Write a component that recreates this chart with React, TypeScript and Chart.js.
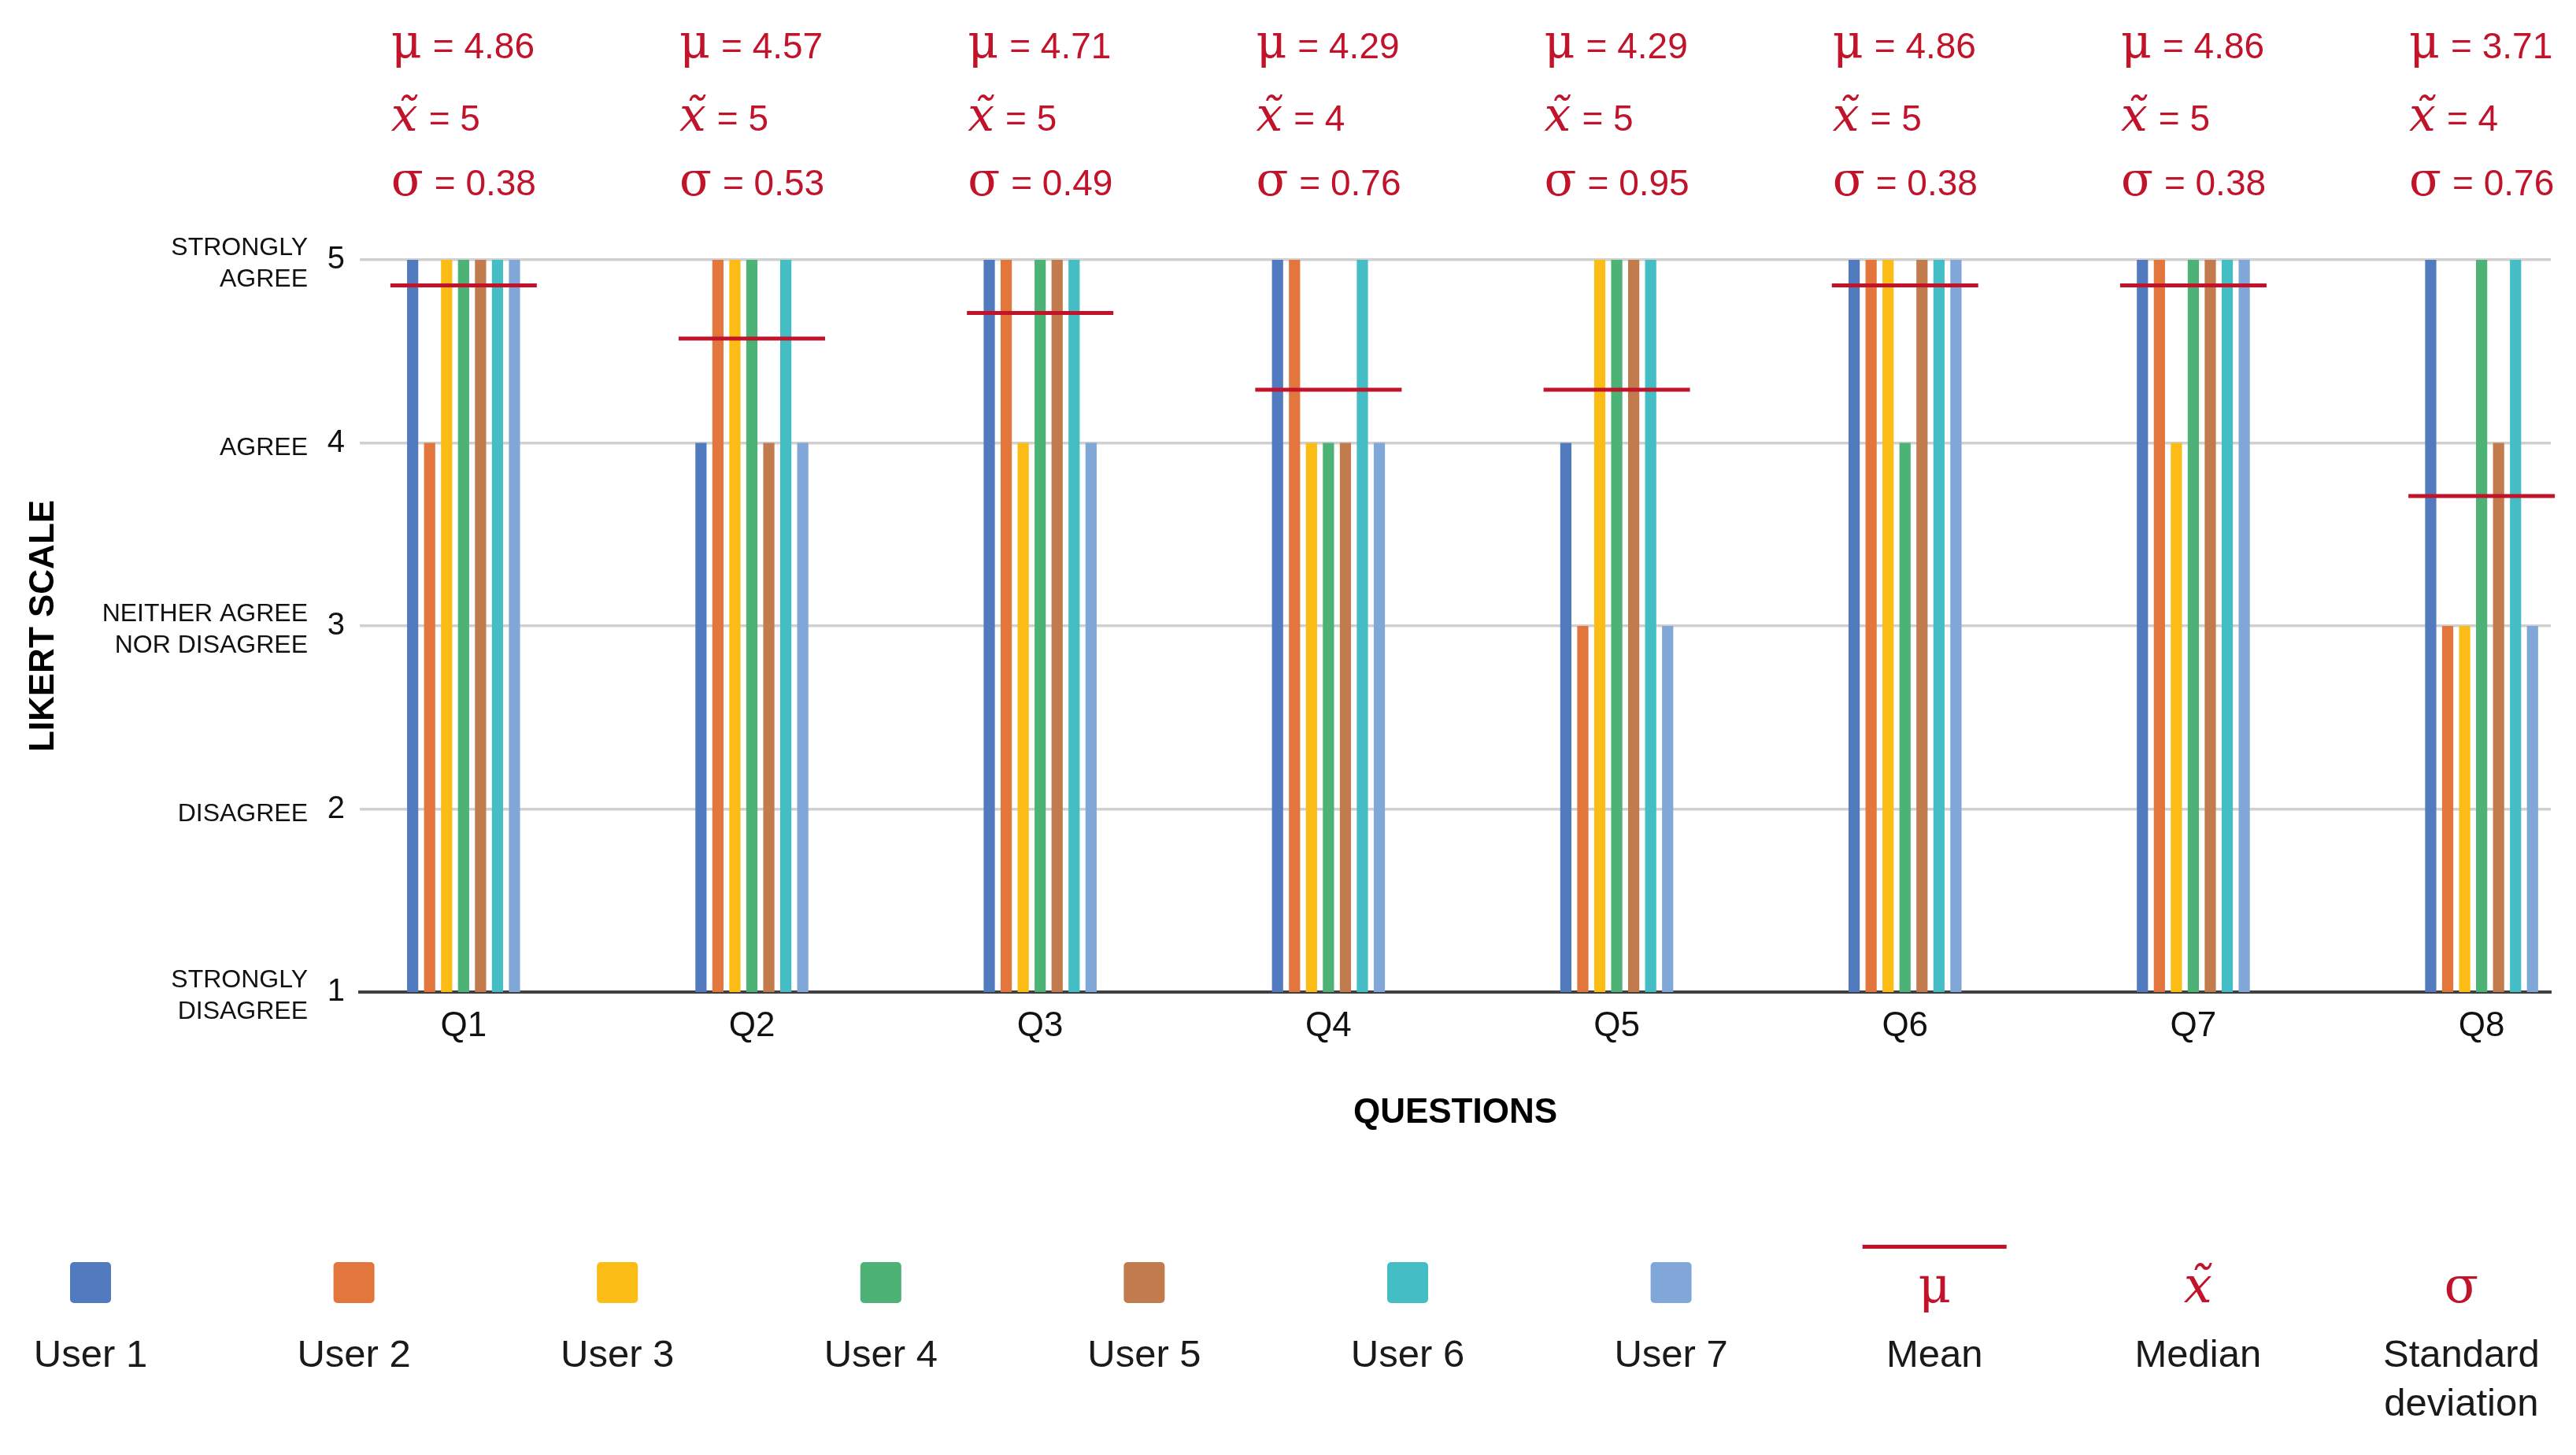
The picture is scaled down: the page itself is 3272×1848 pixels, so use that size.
import { useEffect, useRef } from 'react'
import { Chart, registerables } from 'chart.js'
Chart.register(...registerables)

const QUESTIONS = ['Q1', 'Q2', 'Q3', 'Q4', 'Q5', 'Q6', 'Q7', 'Q8']
const USERS = ['User 1', 'User 2', 'User 3', 'User 4', 'User 5', 'User 6', 'User 7']

// answers per user, Q1..Q8
const USER_1 = [5, 4, 5, 5, 4, 5, 5, 5]
const USER_2 = [4, 5, 5, 5, 3, 5, 5, 3]
const USER_3 = [5, 5, 4, 4, 5, 5, 4, 3]
const USER_4 = [5, 5, 5, 4, 5, 4, 5, 5]
const USER_5 = [5, 4, 5, 4, 5, 5, 5, 4]
const USER_6 = [5, 5, 5, 5, 5, 5, 5, 5]
const USER_7 = [5, 4, 4, 4, 3, 5, 5, 3]
const ANSWERS = [USER_1, USER_2, USER_3, USER_4, USER_5, USER_6, USER_7]

const MEAN = [4.86, 4.57, 4.71, 4.29, 4.29, 4.86, 4.86, 3.71]
const MEDIAN = [5, 5, 5, 4, 5, 5, 5, 4]
const STD_DEV = [0.38, 0.53, 0.49, 0.76, 0.95, 0.38, 0.38, 0.76]

const Y_TICKS = [1, 2, 3, 4, 5]
const LIKERT_LABELS = [
    ['STRONGLY', 'DISAGREE'],
    ['DISAGREE'],
    ['NEITHER AGREE', 'NOR DISAGREE'],
    ['AGREE'],
    ['STRONGLY', 'AGREE'],
]

const USER_COLORS = ['#527BBF', '#E3763D', '#FBBC16', '#4CB276', '#C17B4C', '#45BDC5', '#81A6D8']
const RED = '#C1132A'
const SANS = '"Liberation Sans", Arial, sans-serif'
const SYM = '"DejaVu Serif", serif'

function drawStat(ctx: CanvasRenderingContext2D, sym: string, symFont: string, text: string, left: number, base: number) {
    ctx.font = symFont
    ctx.fillText(sym, left, base)
    const w = ctx.measureText(sym).width
    ctx.font = `46px ${SANS}`
    ctx.fillText(text, left + w + 14, base)
}

const annotations = {
    id: 'likertAnnotations',
    afterDraw(chart: Chart) {
        const { ctx, chartArea } = chart
        const xs = chart.scales.x
        const ys = chart.scales.y
        ctx.save()

        // verbal labels next to the y ticks
        ctx.fillStyle = '#111'
        ctx.font = `32px ${SANS}`
        ctx.textAlign = 'right'
        ctx.textBaseline = 'alphabetic'
        LIKERT_LABELS.forEach((lines, i) => {
            const py = ys.getPixelForValue(Y_TICKS[i])
            if (lines.length === 1) ctx.fillText(lines[0], 391, py + 15.5)
            else {
                ctx.fillText(lines[0], 391, py - 6)
                ctx.fillText(lines[1], 391, py + 33.5)
            }
        })

        // mean / median / sd above each question
        ctx.textAlign = 'left'
        ctx.fillStyle = RED
        QUESTIONS.forEach((_, i) => {
            const left = xs.getPixelForValue(i + 1) - 92
            drawStat(ctx, 'μ', `60px ${SYM}`, `= ${MEAN[i].toFixed(2)}`, left, chartArea.top - 256)
            drawStat(ctx, 'x̃', `italic 60px ${SYM}`, `= ${MEDIAN[i]}`, left, chartArea.top - 164)
            drawStat(ctx, 'σ', `60px ${SYM}`, `= ${STD_DEV[i].toFixed(2)}`, left, chartArea.top - 82)
        })

        // legend row
        const x0 = 115, step = 334.6
        ctx.textAlign = 'center'
        USERS.forEach((u, i) => {
            const cx = x0 + step * i
            ctx.fillStyle = USER_COLORS[i]
            ctx.beginPath()
            ctx.roundRect(cx - 26, 1603, 52, 52, 5)
            ctx.fill()
            ctx.fillStyle = '#1a1a1a'
            ctx.font = `49px ${SANS}`
            ctx.fillText(u, cx, 1736)
        })
        const extra: [string, string, string[]][] = [
            ['μ', `64px ${SYM}`, ['Mean']],
            ['x̃', `italic 64px ${SYM}`, ['Median']],
            ['σ', `64px ${SYM}`, ['Standard', 'deviation']],
        ]
        extra.forEach(([sym, font, label], k) => {
            const cx = x0 + step * (USERS.length + k)
            ctx.fillStyle = RED
            if (k === 0) ctx.fillRect(cx - 91.5, 1581, 183, 5)
            ctx.font = font
            ctx.fillText(sym, cx, 1654)
            ctx.fillStyle = '#1a1a1a'
            ctx.font = `49px ${SANS}`
            label.forEach((l, j) => ctx.fillText(l, cx, 1736 + j * 62))
        })
        ctx.restore()
    },
}

export default function App() {
    const canvasRef = useRef<HTMLCanvasElement>(null)
    const chartRef = useRef<Chart | null>(null)

    useEffect(() => {
        document.body.style.margin = '0'
        document.body.style.overflow = 'hidden'
        if (!canvasRef.current) return
        Chart.defaults.font.family = SANS

        chartRef.current?.destroy()
        chartRef.current = new Chart(canvasRef.current, {
            type: 'bar',
            plugins: [annotations],
            data: {
                datasets: [
                    ...ANSWERS.map((vals, s) => ({
                        type: 'bar' as const,
                        label: USERS[s],
                        data: vals.map((v, i) => ({ x: i + 1, y: v })),
                        backgroundColor: USER_COLORS[s],
                        borderWidth: 0,
                        barPercentage: 0.66,
                        categoryPercentage: 0.412,
                    })),
                    {
                        type: 'line' as const,
                        label: 'Mean',
                        data: MEAN.map((m, i) => ({ x: i + 1, y: m })),
                        showLine: false,
                        pointStyle: 'line',
                        pointRadius: 93,
                        pointHoverRadius: 93,
                        pointBorderWidth: 5,
                        pointBorderColor: RED,
                        pointBackgroundColor: RED,
                        clip: false,
                        order: -1,
                    },
                ] as any,
            },
            options: {
                animation: false,
                responsive: true,
                maintainAspectRatio: false,
                layout: { autoPadding: false, padding: { top: 330, right: 32, bottom: 348, left: 0 } },
                plugins: { legend: { display: false }, tooltip: { enabled: false } },
                scales: {
                    x: {
                        type: 'linear',
                        min: 0.64,
                        max: 8.24,
                        offset: false,
                        grid: { display: false, drawTicks: false, offset: false },
                        border: { display: true, color: '#404040', width: 4 },
                        ticks: {
                            stepSize: 1,
                            includeBounds: false,
                            autoSkip: false,
                            maxRotation: 0,
                            padding: 17,
                            color: '#111',
                            font: { size: 44 },
                            callback: v => QUESTIONS[Number(v) - 1] ?? '',
                        },
                        title: {
                            display: true,
                            text: 'QUESTIONS',
                            color: '#000',
                            font: { size: 44, weight: 'bold' },
                            padding: { top: 0, bottom: 60 },
                        },
                        afterFit: (s: any) => {
                            s.height = 240
                            s.paddingLeft = 0
                            s.paddingRight = 0
                        },
                    },
                    y: {
                        min: 1,
                        max: 5,
                        grid: {
                            drawTicks: false,
                            lineWidth: 3.5,
                            color: c => (c.tick && c.tick.value === 1 ? 'rgba(0,0,0,0)' : '#d0d0d0'),
                        },
                        border: { display: false },
                        ticks: { stepSize: 1, padding: 19, color: '#111', font: { size: 40 } },
                        title: {
                            display: true,
                            text: 'LIKERT SCALE',
                            color: '#000',
                            font: { size: 44, weight: 'bold' },
                            padding: { top: 29, bottom: 0 },
                        },
                        afterFit: (s: any) => { s.width = 457 },
                    },
                },
            },
        })
        return () => chartRef.current?.destroy()
    }, [])

    return (
        <div style={{ position: 'relative', width: 3272, height: 1848, background: 'white' }}>
            <canvas ref={canvasRef} />
        </div>
    )
}
